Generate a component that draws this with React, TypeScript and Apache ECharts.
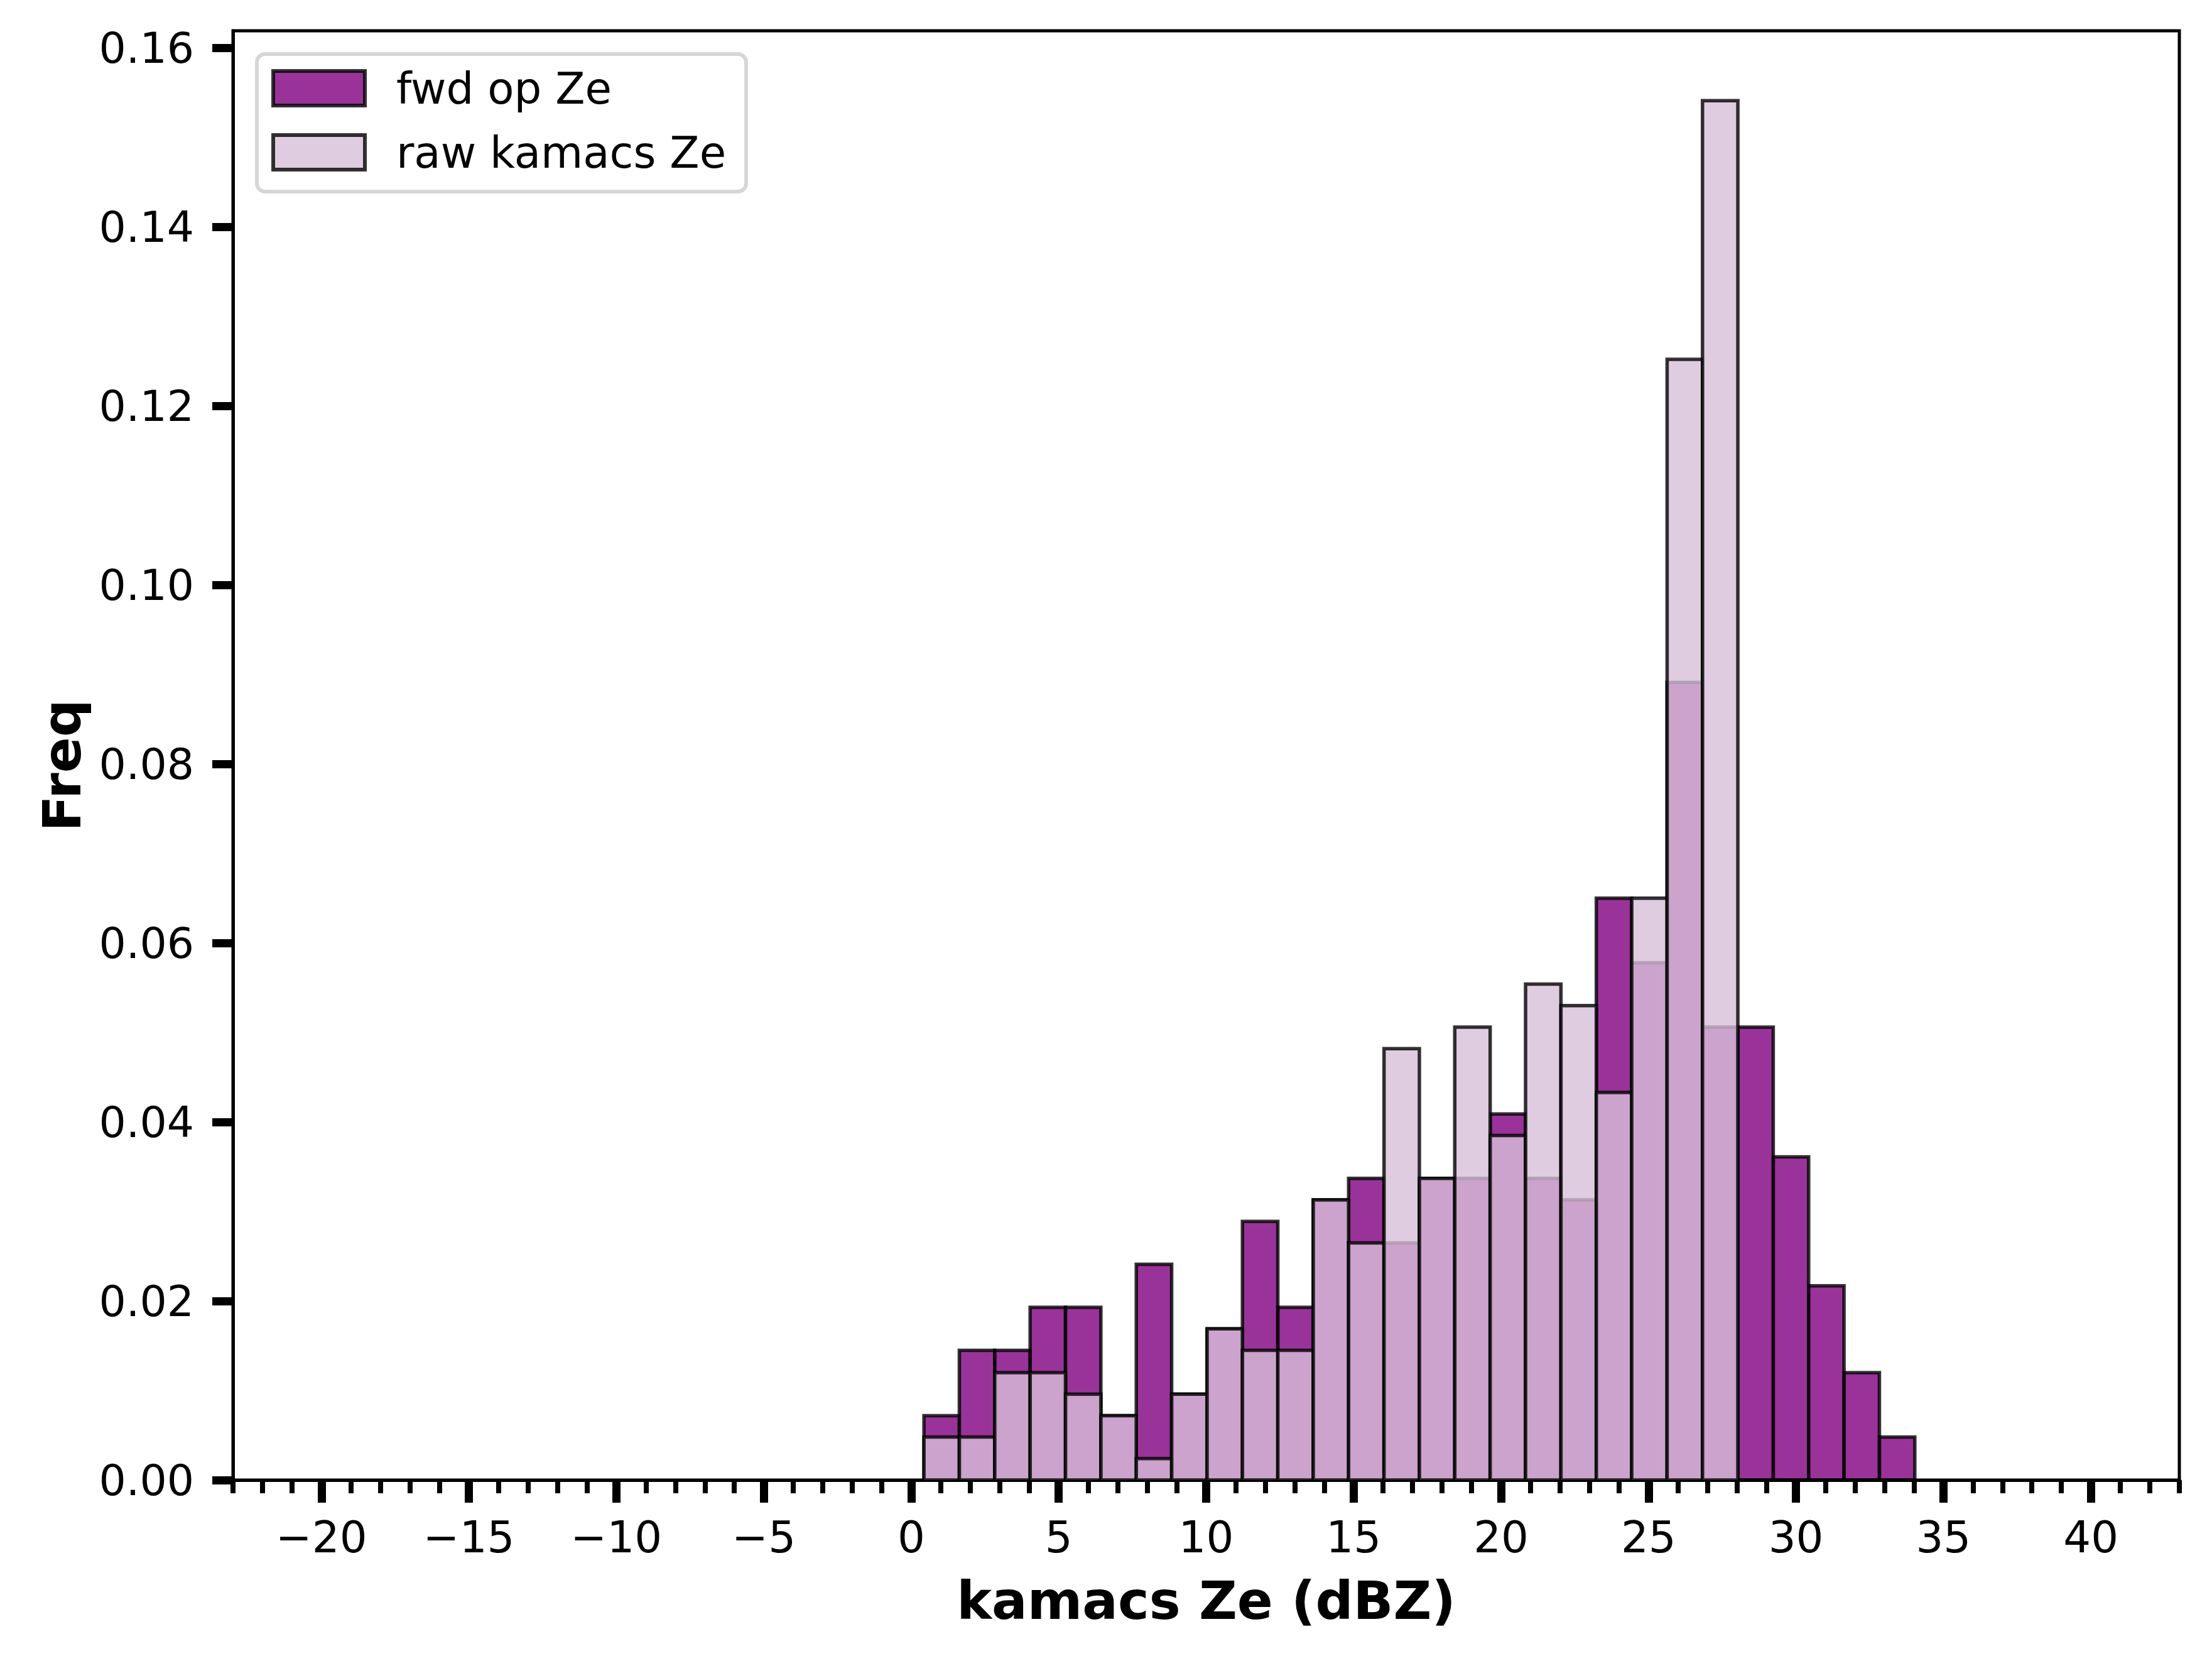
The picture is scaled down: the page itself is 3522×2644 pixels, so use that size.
import React, { useEffect, useRef } from "react";
import * as echarts from "echarts";

// Shared histogram bin edges (dBZ)
const binEdges = [
  0.43, 1.63, 2.83, 4.03, 5.23, 6.43, 7.63, 8.83, 10.03, 11.23, 12.43, 13.63,
  14.83, 16.03, 17.23, 18.43, 19.63, 20.83, 22.03, 23.23, 24.43, 25.63, 26.83,
  28.03, 29.23, 30.43, 31.63, 32.83, 34.03,
];

// Normalised frequency per bin
const fwdFreq = [
  0.0072, 0.0145, 0.0145, 0.0193, 0.0193, 0.0072, 0.0241, 0.0096, 0.0169,
  0.0289, 0.0193, 0.0313, 0.0337, 0.0265, 0.0337, 0.0337, 0.0409, 0.0337,
  0.0313, 0.065, 0.0578, 0.0891, 0.0506, 0.0506, 0.0361, 0.0217, 0.012, 0.0048,
];
const rawFreq = [
  0.0048, 0.0048, 0.012, 0.012, 0.0096, 0.0072, 0.0024, 0.0096, 0.0169,
  0.0145, 0.0145, 0.0313, 0.0265, 0.0482, 0.0337, 0.0506, 0.0385, 0.0554,
  0.053, 0.0433, 0.065, 0.1252, 0.1541, 0, 0, 0, 0, 0,
];

const seriesNames = ["fwd op Ze", "raw kamacs Ze"];
const xMajorTicks = [-20, -15, -10, -5, 0, 5, 10, 15, 20, 25, 30, 35, 40];
const yTicks = [0, 0.02, 0.04, 0.06, 0.08, 0.1, 0.12, 0.14, 0.16];
const X_MIN = -23;
const X_MAX = 43;
const Y_MAX = 0.1619;

const FONT = "'DejaVu Sans', sans-serif";
const FWD_FILL = "rgba(128,0,128,0.8)";
const RAW_FILL = "rgba(216,191,216,0.8)";
const EDGE = "rgba(0,0,0,0.8)";

function toBins(values: number[]) {
  return values.map((v, i) => [binEdges[i], binEdges[i + 1], v]);
}

function makeRenderItem(fill: string) {
  return (params: any, api: any) => {
    const p0 = api.coord([api.value(0), api.value(2)]);
    const p1 = api.coord([api.value(1), 0]);
    return {
      type: "rect",
      shape: { x: p0[0], y: p0[1], width: p1[0] - p0[0], height: p1[1] - p0[1] },
      style: { fill, stroke: EDGE, lineWidth: 5.5 },
    };
  };
}

export default function App() {
  const ref = useRef<HTMLDivElement>(null);

  useEffect(() => {
    if (!ref.current) return;
    const chart = echarts.init(ref.current, undefined, { renderer: "svg" });
    const fmtX = (v: number) => (v < 0 ? "\u2212" + Math.abs(v) : String(v));
    chart.setOption({
      animation: false,
      backgroundColor: "#ffffff",
      textStyle: { fontFamily: FONT },
      grid: {
        left: 371,
        top: 49,
        width: 3099,
        height: 2307,
        show: true,
        borderColor: "#000",
        borderWidth: 5,
        backgroundColor: "transparent",
        outerBoundsMode: "none",
      },
      legend: {
        orient: "vertical",
        left: 409,
        top: 86,
        padding: [20, 32, 28, 23],
        itemWidth: 146,
        itemHeight: 55,
        itemGap: 33,
        selectedMode: false,
        borderColor: "rgba(204,204,204,0.8)",
        borderWidth: 6,
        borderRadius: 13,
        backgroundColor: "rgba(255,255,255,0.8)",
        textStyle: { fontFamily: FONT, fontSize: 69, color: "#000", padding: [0, 0, 0, 45] },
        data: [
          {
            name: seriesNames[0],
            icon: "rect",
            itemStyle: { color: FWD_FILL, borderColor: EDGE, borderWidth: 6 },
          },
          {
            name: seriesNames[1],
            icon: "rect",
            itemStyle: { color: RAW_FILL, borderColor: EDGE, borderWidth: 6 },
          },
        ],
      },
      xAxis: [
        {
          type: "value",
          gridIndex: 0,
          position: "bottom",
          min: X_MIN,
          max: X_MAX,
          interval: 1,
          axisLine: { show: true, onZero: false, lineStyle: { color: "#000", width: 5 } },
          axisTick: { show: true, length: 21, lineStyle: { color: "#000", width: 8 } },
          axisLabel: { show: false },
          splitLine: { show: false },
        },
        {
          type: "value",
          gridIndex: 0,
          position: "bottom",
          min: X_MIN,
          max: X_MAX,
          name: "kamacs Ze (dBZ)",
          nameLocation: "middle",
          nameGap: 150,
          nameTextStyle: { fontFamily: FONT, fontSize: 84, fontWeight: "bold", color: "#000" },
          axisLine: { show: false, onZero: false },
          axisTick: {
            show: true,
            customValues: xMajorTicks,
            length: 36,
            lineStyle: { color: "#000", width: 13 },
          },
          axisLabel: {
            show: true,
            customValues: xMajorTicks,
            formatter: fmtX,
            margin: 56,
            fontFamily: FONT,
            fontSize: 69,
            color: "#000",
          },
          splitLine: { show: false },
        },
      ],
      yAxis: {
        type: "value",
        position: "left",
        min: 0,
        max: Y_MAX,
        name: "Freq",
        nameLocation: "middle",
        nameRotate: 90,
        nameGap: 230,
        nameTextStyle: {
          fontFamily: FONT,
          fontSize: 84,
          fontWeight: "bold",
          color: "#000",
          padding: [0, 32, 0, 0],
        },
        axisLine: { show: true, onZero: false, lineStyle: { color: "#000", width: 5 } },
        axisTick: {
          show: true,
          customValues: yTicks,
          length: 33,
          lineStyle: { color: "#000", width: 13 },
        },
        axisLabel: {
          show: true,
          customValues: yTicks,
          formatter: (v: number) => v.toFixed(2),
          margin: 62,
          fontFamily: FONT,
          fontSize: 68,
          color: "#000",
        },
        splitLine: { show: false },
      },
      series: [
        {
          name: seriesNames[0],
          type: "custom",
          xAxisIndex: 0,
          yAxisIndex: 0,
          renderItem: makeRenderItem(FWD_FILL),
          itemStyle: { color: FWD_FILL, borderColor: EDGE },
          encode: { x: [0, 1], y: 2 },
          data: toBins(fwdFreq),
          z: 2,
        },
        {
          name: seriesNames[1],
          type: "custom",
          xAxisIndex: 0,
          yAxisIndex: 0,
          renderItem: makeRenderItem(RAW_FILL),
          itemStyle: { color: RAW_FILL, borderColor: EDGE },
          encode: { x: [0, 1], y: 2 },
          data: toBins(rawFreq),
          z: 3,
        },
      ],
    });
    return () => chart.dispose();
  }, []);

  return (
    <div
      ref={ref}
      style={{ position: "absolute", left: 0, top: 0, width: 3522, height: 2644, background: "#fff" }}
    />
  );
}
